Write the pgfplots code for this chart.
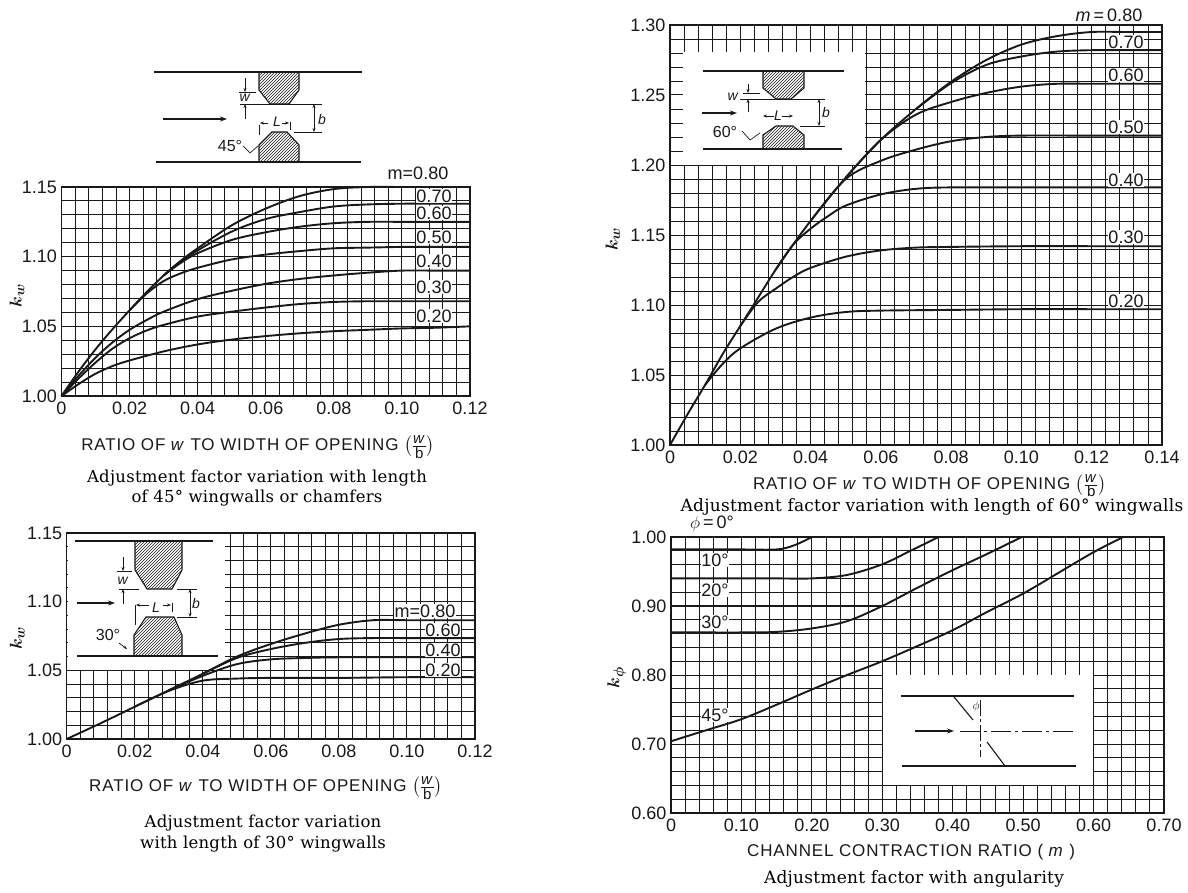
\documentclass[border=0pt]{standalone}
\usepackage{fontspec}
\setmainfont{Liberation Sans}
\newfontfamily\capfont[LetterSpace=1.5]{DejaVu Serif}
\newfontfamily\lblfont[LetterSpace=5]{Liberation Sans}
\usepackage{amsmath}
\usepackage{pgfplots}
\pgfplotsset{compat=1.18}
\usetikzlibrary{patterns,arrows.meta}

\newcommand{\lab}{\fontsize{18}{18}\selectfont}
\newcommand{\xlab}{\lblfont\fontsize{17}{17}\selectfont}
\newcommand{\captxt}[1]{{\capfont\fontsize{16.5}{16.5}\selectfont #1}}
\newcommand{\fracpart}[1]{\text{\fontsize{15}{15}\selectfont #1}}
\newcommand{\wb}{$\bigl(\frac{\fracpart{\textit{w}}}{\fracpart{b}}\bigr)$}

\definecolor{ink}{gray}{0.1}

\pgfplotsset{
  chart/.style={
    scale only axis,
    anchor=south west,
    clip=false,
    grid=both,
    minor tick num=4,
    major tick length=0pt,
    minor tick length=0pt,
    axis line style={ink,line width=1.3pt},
    major grid style={ink,line width=1.0pt},
    minor grid style={ink,line width=0.9pt},
    tick label style={font=\lab,text=ink},
    xticklabel style={yshift=-2pt},
    yticklabel style={xshift=-1pt},
    label style={font=\xlab,text=ink},
    ylabel style={anchor=center,font=\fontsize{19}{19}\selectfont},
    xlabel style={anchor=center},
  },
  crv/.style={ink,line width=1.9pt,smooth,tension=0.55,no marks},
  ratio12/.style={
    xmin=0,xmax=0.12,
    xtick={0,0.02,0.04,0.06,0.08,0.10,0.12},
    xticklabels={0,0.02,0.04,0.06,0.08,0.10,0.12},
  },
}
\tikzset{
  hatch/.style={draw=ink,line width=1.1pt,pattern=north east lines,pattern color=ink},
  ln/.style={ink,line width=1.1pt},
  thin ln/.style={ink,line width=0.7pt},
  arr/.style={ink,line width=1.1pt,-{Stealth[length=7pt,width=5pt]}},
  tag/.style={fill=white,inner sep=0.8pt,font=\lab,text=ink},
  small/.style={font=\fontsize{14}{14}\selectfont,text=ink,inner sep=0.5pt},
}

\begin{document}
\begin{tikzpicture}[x=1pt,y=-1pt]
\useasboundingbox (0,0) rectangle (1188,893);

% 45 degree wingwalls
\begin{axis}[chart,ratio12,at={(61.5pt,-396pt)},width=408.5pt,height=209pt,
  ymin=1,ymax=1.15,ytick={1,1.05,1.10,1.15},yticklabels={1.00,1.05,1.10,1.15},
  xlabel={RATIO OF \textit{w} TO WIDTH OF OPENING \wb},
  xlabel style={at={(axis description cs:0.481,-0.244)}},
  ylabel={$\boldsymbol{k_w}$},ylabel style={at={(axis description cs:-0.109,0.48)}}]
\addplot[crv] coordinates {(0,1)(0.005,1.0175)(0.01,1.0335)(0.015,1.048)(0.02,1.0615)(0.025,1.0745)(0.03,1.0865)(0.035,1.097)(0.04,1.106)(0.05,1.1225)(0.06,1.1345)(0.07,1.1435)(0.08,1.1485)(0.09,1.15)(0.10,1.15)(0.11,1.15)(0.12,1.15)};
\addplot[crv] coordinates {(0.03,1.0865)(0.035,1.0965)(0.04,1.1045)(0.05,1.118)(0.06,1.127)(0.07,1.132)(0.08,1.136)(0.09,1.1375)(0.10,1.138)(0.11,1.138)(0.12,1.138)};
\addplot[crv] coordinates {(0.03,1.0865)(0.035,1.0955)(0.04,1.1025)(0.05,1.112)(0.06,1.1175)(0.07,1.1215)(0.08,1.124)(0.09,1.125)(0.10,1.125)(0.11,1.125)(0.12,1.125)};
\addplot[crv] coordinates {(0.02,1.0615)(0.025,1.0735)(0.03,1.0825)(0.035,1.088)(0.04,1.092)(0.05,1.098)(0.06,1.1015)(0.07,1.104)(0.08,1.106)(0.09,1.1065)(0.10,1.107)(0.11,1.107)(0.12,1.107)};
\addplot[crv] coordinates {(0,1)(0.005,1.0145)(0.01,1.0275)(0.015,1.0385)(0.02,1.0475)(0.025,1.0545)(0.03,1.0605)(0.04,1.0695)(0.05,1.0755)(0.06,1.0805)(0.07,1.084)(0.08,1.0865)(0.09,1.0885)(0.10,1.09)(0.11,1.09)(0.12,1.09)};
\addplot[crv] coordinates {(0,1)(0.005,1.0125)(0.01,1.024)(0.015,1.034)(0.02,1.0415)(0.025,1.047)(0.03,1.051)(0.04,1.057)(0.05,1.0605)(0.06,1.0635)(0.07,1.066)(0.08,1.0675)(0.09,1.068)(0.10,1.068)(0.11,1.068)(0.12,1.068)};
\addplot[crv] coordinates {(0,1)(0.005,1.0085)(0.01,1.016)(0.015,1.0215)(0.02,1.0255)(0.03,1.032)(0.04,1.037)(0.05,1.0405)(0.06,1.043)(0.07,1.045)(0.08,1.0465)(0.09,1.0475)(0.10,1.0485)(0.11,1.049)(0.12,1.05)};
\end{axis}

% 30 degree wingwalls
\begin{axis}[chart,ratio12,at={(66.7pt,-739pt)},width=408.3pt,height=206pt,
  ymin=1,ymax=1.15,ytick={1,1.05,1.10,1.15},yticklabels={1.00,1.05,1.10,1.15},
  xlabel={RATIO OF \textit{w} TO WIDTH OF OPENING \wb},
  xlabel style={at={(axis description cs:0.488,-0.238)}},
  ylabel={$\boldsymbol{k_w}$},ylabel style={at={(axis description cs:-0.121,0.49)}}]
\fill[white] (0.0003,1.05) rectangle (0.0465,1.1495);
\addplot[crv] coordinates {(0,1)(0.01,1.0115)(0.02,1.0235)(0.03,1.0355)(0.04,1.0475)(0.05,1.06)(0.06,1.0692)(0.07,1.0768)(0.08,1.0832)(0.09,1.0865)(0.10,1.0865)(0.11,1.0865)(0.12,1.0865)};
\addplot[crv] coordinates {(0.04,1.0475)(0.05,1.059)(0.06,1.0655)(0.07,1.07)(0.08,1.0728)(0.09,1.0735)(0.10,1.0735)(0.11,1.0735)(0.12,1.0735)};
\addplot[crv] coordinates {(0.03,1.0355)(0.04,1.046)(0.05,1.0545)(0.06,1.058)(0.07,1.059)(0.08,1.0595)(0.10,1.0595)(0.12,1.0595)};
\addplot[crv] coordinates {(0.02,1.0235)(0.03,1.035)(0.04,1.0425)(0.05,1.044)(0.06,1.0445)(0.08,1.0445)(0.10,1.045)(0.12,1.045)};
\end{axis}

% 60 degree wingwalls
\begin{axis}[chart,at={(670pt,-445pt)},width=492pt,height=420pt,
  xmin=0,xmax=0.14,xtick={0,0.02,0.04,0.06,0.08,0.10,0.12,0.14},
  xticklabels={0,0.02,0.04,0.06,0.08,0.10,0.12,0.14},
  ymin=1,ymax=1.3,ytick={1,1.05,1.10,1.15,1.20,1.25,1.30},
  yticklabels={1.00,1.05,1.10,1.15,1.20,1.25,1.30},
  xlabel={RATIO OF \textit{w} TO WIDTH OF OPENING \wb},
  xlabel style={at={(axis description cs:0.528,-0.097)}},
  ylabel={$\boldsymbol{k_w}$},ylabel style={at={(axis description cs:-0.116,0.49)}}]
\fill[white] (0.0037,1.20) rectangle (0.0555,1.2807);
\addplot[crv] coordinates {(0,1)(0.005,1.022)(0.01,1.043)(0.015,1.065)(0.02,1.085)(0.025,1.105)(0.03,1.125)(0.035,1.143)(0.04,1.16)(0.05,1.191)(0.06,1.218)(0.07,1.24)(0.08,1.2595)(0.09,1.275)(0.10,1.286)(0.11,1.292)(0.12,1.295)(0.13,1.295)(0.14,1.295)};
\addplot[crv] coordinates {(0.07,1.24)(0.08,1.2585)(0.09,1.2715)(0.10,1.2775)(0.11,1.281)(0.12,1.282)(0.13,1.282)(0.14,1.282)};
\addplot[crv] coordinates {(0.05,1.191)(0.06,1.218)(0.07,1.236)(0.08,1.245)(0.09,1.2515)(0.10,1.256)(0.11,1.258)(0.12,1.258)(0.13,1.258)(0.14,1.258)};
\addplot[crv] coordinates {(0.04,1.16)(0.05,1.19)(0.06,1.203)(0.07,1.211)(0.08,1.217)(0.09,1.22)(0.10,1.221)(0.12,1.221)(0.14,1.221)};
\addplot[crv] coordinates {(0.03,1.125)(0.035,1.143)(0.04,1.1545)(0.045,1.1635)(0.05,1.171)(0.06,1.179)(0.07,1.183)(0.08,1.184)(0.10,1.184)(0.12,1.184)(0.14,1.184)};
\addplot[crv] coordinates {(0.02,1.085)(0.025,1.102)(0.03,1.1115)(0.035,1.12)(0.04,1.1265)(0.05,1.1345)(0.06,1.139)(0.07,1.141)(0.08,1.1415)(0.10,1.142)(0.12,1.142)(0.14,1.142)};
\addplot[crv] coordinates {(0.01,1.043)(0.015,1.058)(0.02,1.069)(0.03,1.083)(0.04,1.091)(0.05,1.095)(0.06,1.096)(0.08,1.0965)(0.10,1.097)(0.12,1.097)(0.14,1.097)};
\end{axis}

% angularity
\begin{axis}[chart,at={(671pt,-813pt)},width=493pt,height=276pt,
  xmin=0,xmax=0.70,xtick={0,0.10,0.20,0.30,0.40,0.50,0.60,0.70},
  xticklabels={0,0.10,0.20,0.30,0.40,0.50,0.60,0.70},
  ymin=0.6,ymax=1,ytick={0.6,0.7,0.8,0.9,1},
  yticklabels={0.60,0.70,0.80,0.90,1.00},
  xlabel={CHANNEL CONTRACTION RATIO ( \textit{m} )},
  xlabel style={at={(axis description cs:0.487,-0.141)}},
  ylabel={$\boldsymbol{k_\phi}$},ylabel style={at={(axis description cs:-0.11,0.49)}}]
\fill[white] (0.3017,0.64) rectangle (0.599,0.80);
\addplot[crv] coordinates {(0,0.982)(0.05,0.982)(0.10,0.982)(0.15,0.982)(0.175,0.988)(0.20,1)};
\addplot[crv] coordinates {(0,0.94)(0.05,0.94)(0.10,0.94)(0.15,0.94)(0.20,0.94)(0.25,0.945)(0.30,0.9605)(0.34,0.98)(0.38,1)};
\addplot[ink,line width=1.9pt,no marks] coordinates {(0,0.90)(0.15,0.90)(0.30,0.90)};
\addplot[crv] coordinates {(0,0.8617)(0.05,0.8617)(0.10,0.8617)(0.15,0.8625)(0.20,0.8675)(0.25,0.878)(0.30,0.90)(0.35,0.9265)(0.40,0.952)(0.45,0.976)(0.498,1)};
\addplot[crv] coordinates {(0,0.704)(0.05,0.72)(0.10,0.736)(0.15,0.757)(0.20,0.779)(0.25,0.80)(0.30,0.82)(0.35,0.842)(0.40,0.865)(0.45,0.892)(0.50,0.918)(0.55,0.948)(0.60,0.978)(0.642,1)};
\end{axis}

% curve tags
\node[tag,fill=none] at (418,173) {m=0.80};
\foreach \y/\s in {196/0.70,213/0.60,237/0.50,261/0.40,287/0.30,316/0.20} \node[tag] at (434,\y) {\s};
\node[tag] at (425,611) {m=0.80};
\foreach \y/\s in {630/0.60,650/0.40,670/0.20} \node[tag] at (443,\y) {\s};
\node[tag,fill=none] at (1109,15) {\textit{m}\,=\,0.80};
\foreach \y/\s in {42/0.70,75/0.60,127/0.50,180/0.40,237/0.30,301/0.20} \node[tag] at (1126,\y) {\s};
\node[tag,fill=none] at (712,524) {$\phi$\,=\,0°};
\foreach \y/\s in {560/10°,590/20°,622/30°,715/45°} \node[tag] at (715,\y) {\s};

% 45 deg sketch
\draw[ln] (153.5,72) -- (362,72);
\draw[ln] (156,162) -- (361,162);
\draw[hatch] (259,72) -- (259,90) -- (270,104) -- (289,104) -- (299,90) -- (299,72);
\draw[hatch] (259,162) -- (259,145) -- (272,132) -- (287,132) -- (299,145) -- (299,162);
\draw[arr] (163,119) -- (227,119);
\draw[thin ln] (239,92) -- (256,92) (240,104) -- (322,104) (294,132) -- (322,132);
\draw[thin ln,-{Stealth[length=4pt]}] (245,78) -- (245,92);
\draw[thin ln,-{Stealth[length=4pt]}] (245,119) -- (245,104);
\draw[thin ln,{Stealth[length=4pt]}-{Stealth[length=4pt]}] (314,104) -- (314,132);
\draw[thin ln] (259,125) -- (259,135) (290,122) -- (290,130);
\draw[thin ln,{Stealth[length=4pt]}-] (260,123) -- (268,123);
\draw[thin ln,{Stealth[length=4pt]}-] (289,123) -- (282,123);
\node[small] at (245,98) {\textit{w}};
\node[small] at (277,122) {\textit{L}};
\node[small] at (322,119) {\textit{b}};
\node[small,font=\fontsize{16}{16}\selectfont] at (230,146) {45°};
\draw[thin ln] (243,146) -- (250,153) -- (258,146);

% 30 deg sketch
\draw[ln] (75,541) -- (213,541);
\draw[ln] (77,656) -- (218,656);
\draw[hatch] (135,541) -- (135,570) -- (147,589) -- (172,589) -- (182,570) -- (182,541);
\draw[hatch] (134,656) -- (134,635) -- (146,617) -- (174,617) -- (182,635) -- (182,656);
\draw[arr] (77,603) -- (115,603);
\draw[thin ln] (117,571) -- (132,571) (119,589) -- (139,589) (177,589) -- (197,589) (177,617) -- (197,617);
\draw[thin ln,-{Stealth[length=4pt]}] (123,557) -- (123,571);
\draw[thin ln,-{Stealth[length=4pt]}] (123,604) -- (123,589);
\draw[thin ln,{Stealth[length=4pt]}-{Stealth[length=4pt]}] (190,589) -- (190,617);
\draw[thin ln] (135,605) -- (135,625) (172,603) -- (172,612);
\draw[thin ln,{Stealth[length=4pt]}-] (136,605) -- (149,605);
\draw[thin ln,{Stealth[length=4pt]}-] (171,605) -- (163,605);
\node[small] at (123,581) {\textit{w}};
\node[small] at (156,608) {\textit{L}};
\node[small] at (196,603) {\textit{b}};
\node[small,font=\fontsize{16}{16}\selectfont] at (108,635) {30°};
\draw[thin ln,-{Stealth[length=4pt]}] (119,643) -- (127,649);

% 60 deg sketch
\draw[ln] (703,71) -- (844,71);
\draw[ln] (703,149) -- (842,149);
\draw[hatch] (763,71) -- (763,88) -- (776,99) -- (791,99) -- (804,88) -- (804,71);
\draw[hatch] (763,149) -- (763,135) -- (776,126) -- (793,126) -- (804,135) -- (804,149);
\draw[arr] (702,113) -- (737,113);
\draw[thin ln] (743,93) -- (760,93) (740,99) -- (825,99) (800,126) -- (825,126);
\draw[thin ln,-{Stealth[length=4pt]}] (748,84) -- (748,93);
\draw[thin ln,-{Stealth[length=4pt]}] (748,112) -- (748,99);
\draw[thin ln,{Stealth[length=4pt]}-{Stealth[length=4pt]}] (819,99) -- (819,126);
\draw[thin ln,{Stealth[length=4pt]}-{Stealth[length=4pt]}] (763,116) -- (793,116);
\fill[white] (774,110) rectangle (782,122);
\node[small] at (733,97) {\textit{w}};
\node[small] at (778,116) {\textit{L}};
\node[small] at (826,112) {\textit{b}};
\node[small,font=\fontsize{16}{16}\selectfont] at (725,132) {60°};
\draw[thin ln] (742,131) -- (750,140) -- (760,133);

% angularity sketch
\draw[ln] (900.5,696) -- (1074,696);
\draw[ln] (902,766) -- (1076,766);
\draw[ln] (954,697) -- (973,720);
\draw[ln] (987,742) -- (1005,766);
\draw[arr] (915,731) -- (954,731);
\draw[thin ln,dash pattern=on 20pt off 4pt on 3pt off 4pt] (960,731) -- (1074,731);
\draw[thin ln,dash pattern=on 16pt off 3pt on 3pt off 3pt] (980,700) -- (980,757);
\node[small,font=\fontsize{12}{12}\selectfont] at (976,706) {$\phi$};

% captions
\node at (257,478) {\captxt{Adjustment factor variation with length}};
\node at (257,498) {\captxt{of 45° wingwalls or chamfers}};
\node at (263,823) {\captxt{Adjustment factor variation}};
\node at (263,844) {\captxt{with length of 30° wingwalls}};
\node at (932,507) {{\capfont\fontsize{17}{17}\selectfont Adjustment factor variation with length of 60° wingwalls}};
\node at (914,879) {{\capfont\fontsize{17}{17}\selectfont Adjustment factor with angularity}};
\end{tikzpicture}
\end{document}
